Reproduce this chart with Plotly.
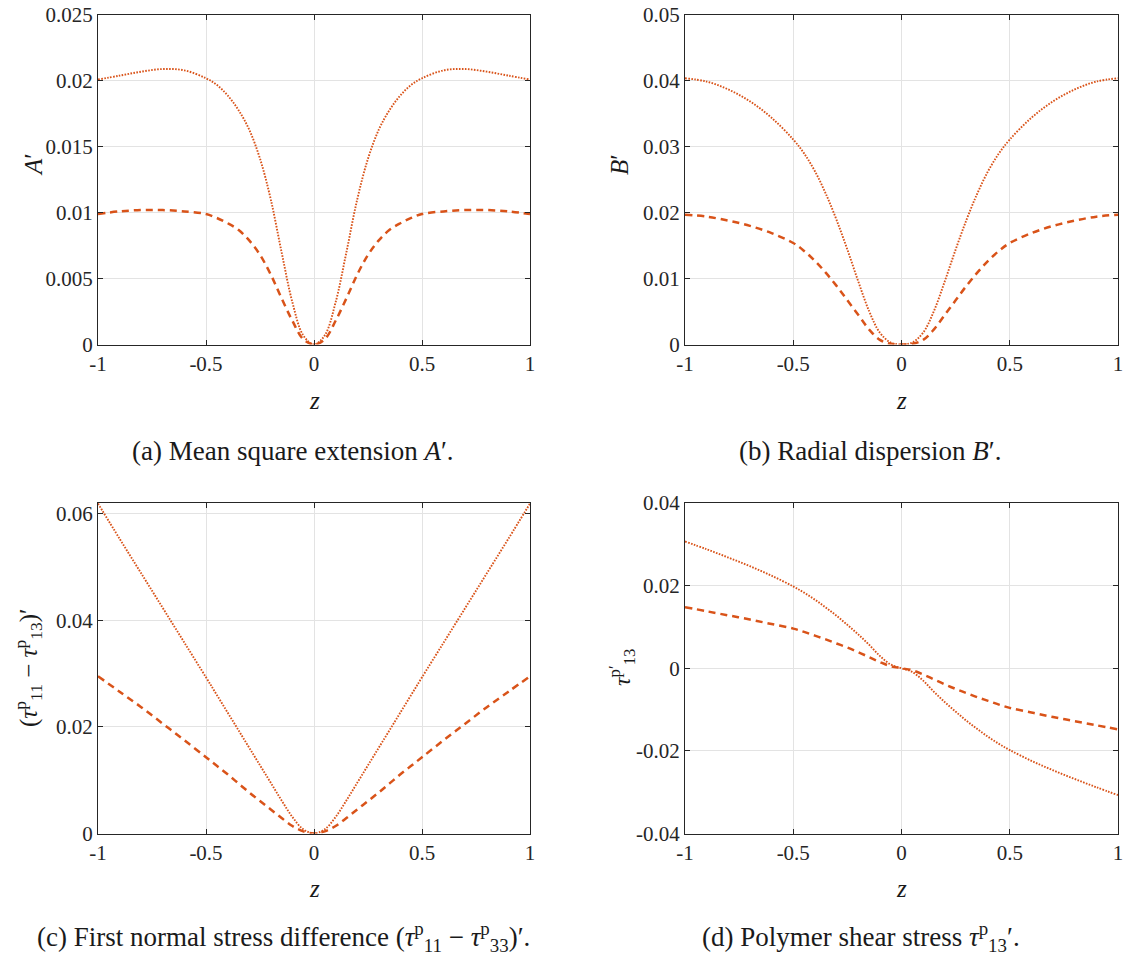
import plotly.graph_objects as go

# ---------------- data ----------------
z = [-1.0, -0.9, -0.8, -0.7, -0.6, -0.5, -0.45, -0.4, -0.35, -0.3, -0.25, -0.2, -0.15, -0.1, -0.05, 0.0,
     0.05, 0.1, 0.15, 0.2, 0.25, 0.3, 0.35, 0.4, 0.45, 0.5, 0.6, 0.7, 0.8, 0.9, 1.0]

A_dotted = [0.0201, 0.0204, 0.0207, 0.0209, 0.0208, 0.0202, 0.0197, 0.0189, 0.0178, 0.0163, 0.0141, 0.0110, 0.0070, 0.0032, 0.0007, 0.0,
            0.0007, 0.0032, 0.0070, 0.0110, 0.0141, 0.0163, 0.0178, 0.0189, 0.0197, 0.0202, 0.0208, 0.0209, 0.0207, 0.0204, 0.0201]
A_dashed = [0.0099, 0.0101, 0.0102, 0.0102, 0.0101, 0.0099, 0.0096, 0.0092, 0.0087, 0.0079, 0.0068, 0.0053, 0.0035, 0.0018, 0.0004, 0.0,
            0.0004, 0.0018, 0.0035, 0.0053, 0.0068, 0.0079, 0.0087, 0.0092, 0.0096, 0.0099, 0.0101, 0.0102, 0.0102, 0.0101, 0.0099]

B_dotted = [0.0404, 0.0399, 0.0387, 0.0369, 0.0344, 0.0311, 0.0290, 0.0263, 0.0229, 0.0189, 0.0144, 0.0096, 0.0051, 0.0018, 0.0003, 0.0,
            0.0003, 0.0018, 0.0051, 0.0096, 0.0144, 0.0189, 0.0229, 0.0263, 0.0290, 0.0311, 0.0344, 0.0369, 0.0387, 0.0399, 0.0404]
B_dashed = [0.0197, 0.0194, 0.0188, 0.0180, 0.0169, 0.0154, 0.0142, 0.0127, 0.0109, 0.0089, 0.0067, 0.0045, 0.0023, 0.0007, 0.0001, 0.0,
            0.0001, 0.0007, 0.0023, 0.0045, 0.0067, 0.0089, 0.0109, 0.0127, 0.0142, 0.0154, 0.0169, 0.0180, 0.0188, 0.0194, 0.0197]

C_dotted = [0.0619, 0.0553, 0.0488, 0.0423, 0.0358, 0.0293, 0.0260, 0.0227, 0.0194, 0.0161, 0.0128, 0.0095, 0.0062, 0.0031, 0.0008, 0.0,
            0.0008, 0.0031, 0.0062, 0.0095, 0.0128, 0.0161, 0.0194, 0.0227, 0.0260, 0.0293, 0.0358, 0.0423, 0.0488, 0.0553, 0.0619]
C_dashed = [0.0295, 0.0266, 0.0237, 0.0206, 0.0175, 0.0143, 0.0127, 0.0111, 0.0094, 0.0077, 0.0061, 0.0045, 0.0029, 0.0014, 0.0004, 0.0,
            0.0004, 0.0014, 0.0029, 0.0045, 0.0061, 0.0077, 0.0094, 0.0111, 0.0127, 0.0143, 0.0175, 0.0206, 0.0237, 0.0266, 0.0295]

D_dotted = [0.0307, 0.0288, 0.0268, 0.0247, 0.0224, 0.0198, 0.0183, 0.0166, 0.0147, 0.0127, 0.0105, 0.0082, 0.0057, 0.0030, 0.0009, 0.0,
            -0.0009, -0.0030, -0.0057, -0.0082, -0.0105, -0.0127, -0.0147, -0.0166, -0.0183, -0.0198, -0.0224, -0.0247, -0.0268, -0.0288, -0.0307]
D_dashed = [0.0148, 0.0138, 0.0128, 0.0118, 0.0107, 0.0096, 0.0088, 0.0079, 0.0070, 0.0060, 0.0050, 0.0039, 0.0027, 0.0015, 0.0005, 0.0,
            -0.0005, -0.0015, -0.0027, -0.0039, -0.0050, -0.0060, -0.0070, -0.0079, -0.0088, -0.0096, -0.0107, -0.0118, -0.0128, -0.0138, -0.0148]

x_ticks = [-1, -0.5, 0, 0.5, 1]
x_ticktext = ["-1", "-0.5", "0", "0.5", "1"]
A_ticks = [0, 0.005, 0.01, 0.015, 0.02, 0.025]
A_ticktext = ["0", "0.005", "0.01", "0.015", "0.02", "0.025"]
B_ticks = [0, 0.01, 0.02, 0.03, 0.04, 0.05]
B_ticktext = ["0", "0.01", "0.02", "0.03", "0.04", "0.05"]
C_ticks = [0, 0.02, 0.04, 0.06]
C_ticktext = ["0", "0.02", "0.04", "0.06"]
D_ticks = [-0.04, -0.02, 0, 0.02, 0.04]
D_ticktext = ["-0.04", "-0.02", "0", "0.02", "0.04"]

# ---------------- styling ----------------
W, H = 1128, 962
COLOR = "#D95319"
FONT = "Liberation Serif"
AX = "#262626"
GRID = "#e3e3e3"

def px(x):
    return x / W

def py(y):
    return 1 - y / H

left_dom = [px(98), px(530)]
right_dom = [px(685), px(1118)]
top_dom = [py(344.5), py(15)]
bot_dom = [py(833.5), py(503)]

fig = go.Figure()

panels = [
    ("x", "y", A_dotted, A_dashed),
    ("x2", "y2", B_dotted, B_dashed),
    ("x3", "y3", C_dotted, C_dashed),
    ("x4", "y4", D_dotted, D_dashed),
]
for xa, ya, dotted, dashed in panels:
    fig.add_trace(go.Scatter(x=z, y=dashed, xaxis=xa, yaxis=ya, mode="lines",
                             line=dict(color=COLOR, width=2.5, dash="7px,5px", shape="spline", smoothing=1.0),
                             showlegend=False, hoverinfo="skip"))
    fig.add_trace(go.Scatter(x=z, y=dotted, xaxis=xa, yaxis=ya, mode="lines",
                             line=dict(color=COLOR, width=1.9, dash="1.6px,1.4px", shape="spline", smoothing=1.0),
                             showlegend=False, hoverinfo="skip"))

def common():
    return dict(showgrid=True, gridcolor=GRID, gridwidth=1, zeroline=False,
                showline=True, linecolor=AX, linewidth=1, mirror="ticks",
                ticks="inside", ticklen=5, tickcolor=AX, tickwidth=1, automargin=False,
                tickfont=dict(family=FONT, size=21, color=AX), fixedrange=True)

def xaxis(domain, anchor):
    d = common()
    d.update(domain=domain, anchor=anchor, range=[-1, 1], tickvals=x_ticks, ticktext=x_ticktext)
    return d

def yaxis(domain, anchor, rng, tv, tt):
    d = common()
    d.update(domain=domain, anchor=anchor, range=rng, tickvals=tv, ticktext=tt)
    return d

fig.update_layout(
    template="none",
    width=W, height=H,
    margin=dict(l=0, r=0, t=0, b=0, autoexpand=False),
    paper_bgcolor="white", plot_bgcolor="white",
    xaxis=xaxis(left_dom, "y"),
    yaxis=yaxis(top_dom, "x", [0, 0.025], A_ticks, A_ticktext),
    xaxis2=xaxis(right_dom, "y2"),
    yaxis2=yaxis(top_dom, "x2", [0, 0.05], B_ticks, B_ticktext),
    xaxis3=xaxis(left_dom, "y3"),
    yaxis3=yaxis(bot_dom, "x3", [0, 0.062], C_ticks, C_ticktext),
    xaxis4=xaxis(right_dom, "y4"),
    yaxis4=yaxis(bot_dom, "x4", [-0.04, 0.04], D_ticks, D_ticktext),
)

def ann(text, x, y, size=24, angle=0):
    fig.add_annotation(text=text, x=px(x), y=py(y), xref="paper", yref="paper",
                       xanchor="center", yanchor="middle", showarrow=False, textangle=angle,
                       font=dict(family=FONT, size=size, color="#1a1a1a"))

# axis titles
ann("<i>z</i>", 314, 400, size=25)
ann("<i>z</i>", 901, 400, size=25)
ann("<i>z</i>", 314, 888, size=25)
ann("<i>z</i>", 901, 888, size=25)
ann("<i>A</i>′", 34, 165, size=25, angle=-90)
ann("<i>B</i>′", 620, 165, size=25, angle=-90)
ann("(<i>τ</i><sup>p</sup><sub>11</sub> − <i>τ</i><sup>p</sup><sub>13</sub>)′", 28, 668, size=25, angle=-90)
ann("<i>τ</i><sup>p′</sup><sub>13</sub>", 622, 668, size=24, angle=-90)

# captions
ann("(a) Mean square extension <i>A</i>′.", 293, 451, size=27)
ann("(b) Radial dispersion <i>B</i>′.", 870, 451, size=27)
ann("(c) First normal stress difference (<i>τ</i><sup>p</sup><sub>11</sub> − <i>τ</i><sup>p</sup><sub>33</sub>)′.", 283, 937, size=27)
ann("(d) Polymer shear stress <i>τ</i><sup>p</sup><sub>13</sub>′.", 861, 937, size=27)

fig.write_html("out.html")
